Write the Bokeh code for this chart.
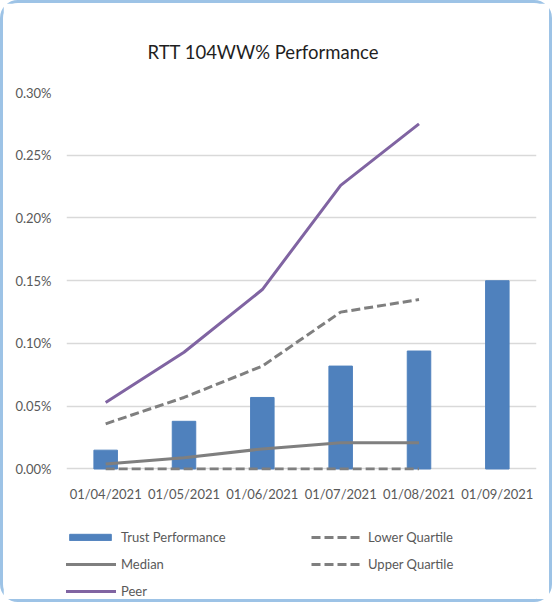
from bokeh.plotting import figure
from bokeh.layouts import column
from bokeh.models import (Legend, LegendItem, NumeralTickFormatter, SingleIntervalTicker,
                          Title, FactorRange, Range1d)
from bokeh.embed import file_html
from bokeh.resources import INLINE

months = ["01/04/2021", "01/05/2021", "01/06/2021", "01/07/2021", "01/08/2021", "01/09/2021"]
line_months = months[:5]
trust = [0.00015, 0.00038, 0.00057, 0.00082, 0.00094, 0.00150]
median = [0.00004, 0.00009, 0.00016, 0.00021, 0.00021]
peer = [0.00053, 0.00093, 0.00143, 0.00226, 0.00275]
lower_q = [0.0, 0.0, 0.0, 0.0, 0.0]
upper_q = [0.00036, 0.00057, 0.00082, 0.00125, 0.00135]

FONT = "Lato"
BLUE = "#4F81BD"
GREY = "#7F7F7F"
PURPLE = "#8064A2"
DASH = "9 4"

p = figure(x_range=months, y_range=(-0.000012, 0.003), width=546, height=504,
           frame_width=470, frame_height=378,
           output_backend="svg", toolbar_location=None,
           min_border_left=63, min_border_right=13, min_border_top=89, min_border_bottom=37)
p.outline_line_color = None

t = Title(text="RTT 104WW% Performance", align="left", offset=81, standoff=60,
          text_font=FONT, text_font_size="18.5px", text_font_style="normal", text_color="#1F1F1F")
p.add_layout(t, "above")

p.vbar(x=months, top=trust, bottom=0, width=0.3, color=BLUE)
p.line(line_months, lower_q, line_color=GREY, line_width=3, line_dash=DASH)
p.line(line_months, upper_q, line_color=GREY, line_width=3, line_dash=DASH)
p.line(line_months, median, line_color=GREY, line_width=3)
p.line(line_months, peer, line_color=PURPLE, line_width=3)

p.yaxis.ticker = SingleIntervalTicker(interval=0.0005)
p.yaxis.formatter = NumeralTickFormatter(format="0.00%")
for ax in (p.xaxis, p.yaxis):
    ax.axis_line_color = None
    ax.major_tick_line_color = None
    ax.minor_tick_line_color = None
    ax.major_label_text_font = FONT
    ax.major_label_text_font_size = "13px"
    ax.major_label_text_color = "#595959"
p.yaxis.major_label_standoff = 9
p.xaxis.major_label_standoff = 9
p.xgrid.grid_line_color = None
p.ygrid.grid_line_color = "#D9D9D9"
p.ygrid.grid_line_width = 1.5
p.x_range.range_padding = 0

# legend panel: same series drawn off-range (clipped), only their legend shows
q = figure(width=546, height=92, x_range=FactorRange(*months), y_range=Range1d(1, 2),
           output_backend="svg", toolbar_location=None,
           min_border_left=0, min_border_right=0, min_border_top=0, min_border_bottom=0)
q.axis.visible = False
q.grid.visible = False
q.outline_line_color = None
r_bar = q.vbar(x=months, top=trust, bottom=0, width=0.3, color=BLUE)
r_lo = q.line(line_months, lower_q, line_color=GREY, line_width=3, line_dash=DASH)
r_up = q.line(line_months, upper_q, line_color=GREY, line_width=3, line_dash=DASH)
r_med = q.line(line_months, median, line_color=GREY, line_width=3)
r_peer = q.line(line_months, peer, line_color=PURPLE, line_width=3)

legend = Legend(items=[
    LegendItem(label="Trust Performance", renderers=[r_bar]),
    LegendItem(label="Median", renderers=[r_med]),
    LegendItem(label="Peer", renderers=[r_peer]),
    LegendItem(label="Lower Quartile", renderers=[r_lo]),
    LegendItem(label="Upper Quartile", renderers=[r_up]),
], ncols=2, location=(-2, 0), padding=0, margin=0, spacing=11,
    glyph_width=52, glyph_height=8, label_height=12, label_standoff=5, label_width=179,
    label_text_font=FONT, label_text_font_size="13px", label_text_color="#595959",
    border_line_alpha=0, background_fill_alpha=0)
q.add_layout(legend, "center")

layout = column(p, q, spacing=0)
layout.styles = {"border": "3px solid #9DC3E6", "border-radius": "18px"}

open("out.html", "w").write(file_html(layout, INLINE))
